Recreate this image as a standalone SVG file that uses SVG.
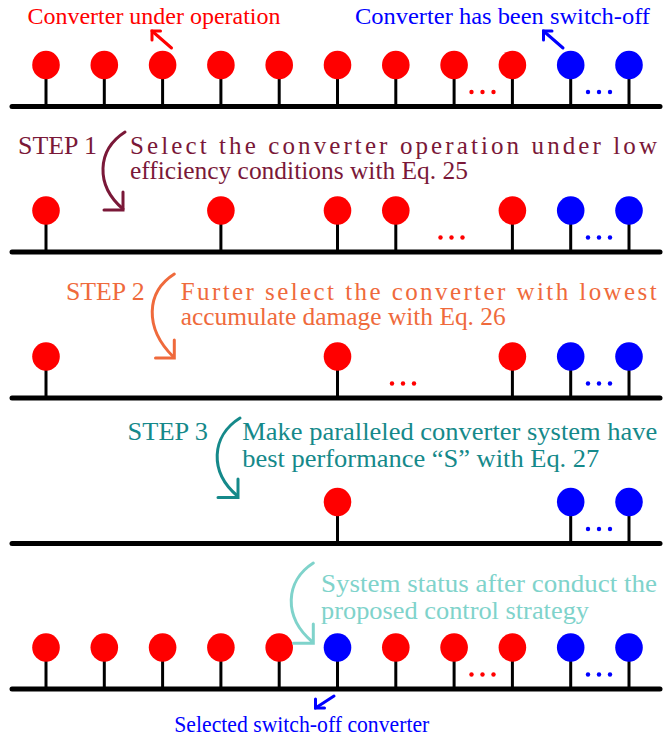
<svg xmlns="http://www.w3.org/2000/svg" width="665" height="745" viewBox="0 0 665 745">
<style>
text{font-family:"Liberation Serif","Times New Roman",serif;}
.bus{stroke:#000;stroke-width:5;stroke-linecap:round;}
.stem{stroke:#000;stroke-width:3;}
.on{fill:#ff0000;}
.off{fill:#0000ff;}
.arr{fill:none;stroke-width:3;stroke-linecap:round;stroke-linejoin:miter;}
.s1{fill:#7a1838;}
.s2{fill:#ef6a3c;}
.s3{fill:#15898a;}
.s4{fill:#7fd3cb;}
</style>
<defs>
<g id="conv-on"><line class="stem" x1="0" y1="0" x2="0" y2="41.5"/><ellipse class="on" cx="0" cy="0" rx="13.8" ry="14.3"/></g>
<g id="conv-off"><line class="stem" x1="0" y1="0" x2="0" y2="41.5"/><ellipse class="off" cx="0" cy="0" rx="13.8" ry="14.3"/></g>
<g id="dots-on" class="on"><circle cx="0" cy="0" r="2.2"/><circle cx="11" cy="0" r="2.2"/><circle cx="22" cy="0" r="2.2"/></g>
<g id="dots-off" class="off"><circle cx="0" cy="0" r="2.2"/><circle cx="11" cy="0" r="2.2"/><circle cx="22" cy="0" r="2.2"/></g>
</defs>

<!-- Row 1 -->
<g id="row1">
<text x="27.5" y="24" font-size="24" fill="#ff0000" textLength="253" lengthAdjust="spacingAndGlyphs">Converter under operation</text>
<text x="355" y="24" font-size="24" fill="#0000ff" textLength="295" lengthAdjust="spacingAndGlyphs">Converter has been switch-off</text>
<line class="bus" x1="12" y1="106.5" x2="660" y2="106.5"/>
<g id="r1c1"><use href="#conv-on" x="46" y="65"/></g>
<g id="r1c2"><use href="#conv-on" x="104.3" y="65"/></g>
<g id="r1c3"><use href="#conv-on" x="162.6" y="65"/></g>
<g id="r1c4"><use href="#conv-on" x="220.9" y="65"/></g>
<g id="r1c5"><use href="#conv-on" x="279.2" y="65"/></g>
<g id="r1c6"><use href="#conv-on" x="337.5" y="65"/></g>
<g id="r1c7"><use href="#conv-on" x="395.8" y="65"/></g>
<g id="r1c8"><use href="#conv-on" x="454.1" y="65"/></g>
<g id="r1c9"><use href="#conv-on" x="512.4" y="65"/></g>
<g id="r1c10"><use href="#conv-off" x="570.7" y="65"/></g>
<g id="r1c11"><use href="#conv-off" x="629" y="65"/></g>
<use href="#dots-on" x="471.5" y="92"/>
<use href="#dots-off" x="588" y="92"/>
</g>

<!-- Row 2 -->
<g id="row2">
<text x="18" y="154.3" font-size="26" class="s1" textLength="79" lengthAdjust="spacingAndGlyphs">STEP 1</text>
<text x="130" y="154.3" font-size="25" class="s1" textLength="527" lengthAdjust="spacing">Select the converter operation under low</text>
<text x="130" y="179.3" font-size="25" class="s1" textLength="338" lengthAdjust="spacingAndGlyphs">efficiency conditions with Eq. 25</text>
<line class="bus" x1="12" y1="252" x2="660" y2="252"/>
<g id="r2c1"><use href="#conv-on" x="46" y="210.5"/></g>
<g id="r2c4"><use href="#conv-on" x="220.9" y="210.5"/></g>
<g id="r2c6"><use href="#conv-on" x="337.5" y="210.5"/></g>
<g id="r2c7"><use href="#conv-on" x="395.8" y="210.5"/></g>
<g id="r2c9"><use href="#conv-on" x="512.4" y="210.5"/></g>
<g id="r2c10"><use href="#conv-off" x="570.7" y="210.5"/></g>
<g id="r2c11"><use href="#conv-off" x="629" y="210.5"/></g>
<use href="#dots-on" x="440.5" y="237.5"/>
<use href="#dots-off" x="588" y="237.5"/>
</g>

<!-- Row 3 -->
<g id="row3">
<text x="66" y="300" font-size="26" class="s2" textLength="78.6" lengthAdjust="spacingAndGlyphs">STEP 2</text>
<text x="180.7" y="300" font-size="25" class="s2" textLength="476" lengthAdjust="spacing">Furter select the converter with lowest</text>
<text x="180.7" y="325" font-size="25" class="s2" textLength="325" lengthAdjust="spacingAndGlyphs">accumulate damage with Eq. 26</text>
<line class="bus" x1="12" y1="398" x2="660" y2="398"/>
<g id="r3c1"><use href="#conv-on" x="46" y="356.5"/></g>
<g id="r3c6"><use href="#conv-on" x="337.5" y="356.5"/></g>
<g id="r3c9"><use href="#conv-on" x="512.4" y="356.5"/></g>
<g id="r3c10"><use href="#conv-off" x="570.7" y="356.5"/></g>
<g id="r3c11"><use href="#conv-off" x="629" y="356.5"/></g>
<use href="#dots-on" x="392" y="383.5"/>
<use href="#dots-off" x="588" y="383.5"/>
</g>

<!-- Row 4 -->
<g id="row4">
<text x="127.6" y="440" font-size="26" class="s3" textLength="80.4" lengthAdjust="spacingAndGlyphs">STEP 3</text>
<text x="242.3" y="440" font-size="25.5" class="s3" textLength="415" lengthAdjust="spacingAndGlyphs">Make paralleled converter system have</text>
<text x="242.3" y="467" font-size="25.5" class="s3" textLength="357" lengthAdjust="spacingAndGlyphs">best performance “S” with Eq. 27</text>
<line class="bus" x1="12" y1="543.5" x2="660" y2="543.5"/>
<g id="r4c6"><use href="#conv-on" x="337.5" y="502"/></g>
<g id="r4c10"><use href="#conv-off" x="570.7" y="502"/></g>
<g id="r4c11"><use href="#conv-off" x="629" y="502"/></g>
<use href="#dots-off" x="588" y="529"/>
</g>

<!-- Row 5 -->
<g id="row5">
<text x="321" y="592" font-size="25.5" class="s4" textLength="336" lengthAdjust="spacingAndGlyphs">System status after conduct the</text>
<text x="321" y="618.5" font-size="25.5" class="s4" textLength="268" lengthAdjust="spacingAndGlyphs">proposed control strategy</text>
<line class="bus" x1="12" y1="689" x2="660" y2="689"/>
<g id="r5c1"><use href="#conv-on" x="46" y="647.5"/></g>
<g id="r5c2"><use href="#conv-on" x="104.3" y="647.5"/></g>
<g id="r5c3"><use href="#conv-on" x="162.6" y="647.5"/></g>
<g id="r5c4"><use href="#conv-on" x="220.9" y="647.5"/></g>
<g id="r5c5"><use href="#conv-on" x="279.2" y="647.5"/></g>
<g id="r5c6"><use href="#conv-off" x="337.5" y="647.5"/></g>
<g id="r5c7"><use href="#conv-on" x="395.8" y="647.5"/></g>
<g id="r5c8"><use href="#conv-on" x="454.1" y="647.5"/></g>
<g id="r5c9"><use href="#conv-on" x="512.4" y="647.5"/></g>
<g id="r5c10"><use href="#conv-off" x="570.7" y="647.5"/></g>
<g id="r5c11"><use href="#conv-off" x="629" y="647.5"/></g>
<use href="#dots-on" x="471.5" y="674.5"/>
<use href="#dots-off" x="588" y="674.5"/>
<text x="174.3" y="732" font-size="23" fill="#0000ff" textLength="255" lengthAdjust="spacingAndGlyphs">Selected switch-off converter</text>
</g>

<!-- Connectors -->
<g id="connectors">
<g stroke="#ff0000" class="arr"><path d="M171.5,48 L152,31"/><path d="M160.5,31 L152,31 L152,40"/></g>
<g stroke="#0000ff" class="arr"><path d="M563,48 L543.5,31"/><path d="M552,31 L543.5,31 L543.5,40"/></g>
<g stroke="#7a1838" class="arr"><path d="M125,132 C97,150 95,185 123,209"/><path d="M104,210 L123,210 L123,192"/></g>
<g stroke="#ef6a3c" class="arr"><path d="M174.3,274 C146,292 144,328 173.5,357"/><path d="M155.5,358 L174.3,358 L174.3,340"/></g>
<g stroke="#15898a" class="arr"><path d="M240,418 C211,436 209,472 237.5,496"/><path d="M218,497.5 L238,497.5 L238,479"/></g>
<g stroke="#7fd3cb" class="arr"><path d="M313.3,563 C285,581 283,617 312.5,642"/><path d="M293.5,643.3 L313.3,643.3 L313.3,624"/></g>
<g stroke="#0000ff" class="arr"><path d="M334,696 L315.5,708"/><path d="M315.5,699 L315.5,708 L324.5,708"/></g>
</g>
</svg>
